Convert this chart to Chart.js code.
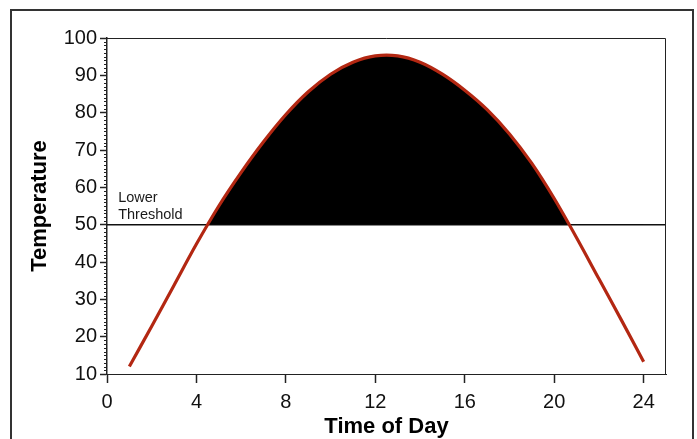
<!DOCTYPE html>
<html>
<head>
<meta charset="utf-8">
<script src="https://cdn.jsdelivr.net/npm/chart.js@4/dist/chart.umd.min.js"></script>
<style>
  html, body { margin: 0; padding: 0; background: #ffffff; }
  #wrap { position: relative; width: 697px; height: 439px; overflow: hidden; }
  #frame { position: absolute; left: 10px; top: 9px; width: 680px; height: 460px;
           border: 2.5px solid #333333; pointer-events: none; }
  canvas { position: absolute; left: 0; top: 0; }
</style>
</head>
<body>
<div id="wrap">
  <canvas id="c" width="697" height="439"></canvas>
  <div id="frame"></div>
</div>
<script>
// ---- data ----
const hours = [1, 2, 3, 4, 5, 6, 7, 8, 9, 10, 11, 12, 13, 14, 15, 16, 17, 18, 19, 20, 21, 22, 23, 24];
const temperature = [12, 22.8, 33.8, 44.8, 55, 64, 72.2, 79.5, 85.6, 90.3, 93.5, 95.2, 95.2, 93.5, 90.3, 86, 80.8, 74.3, 66.4, 57, 46.5, 35.5, 24.5, 13.3];
const thresholdValue = 50;
const thresholdLabel = ["Lower", "Threshold"];
const xRange = [0, 25];
const xTicks = [0, 4, 8, 12, 16, 20, 24];
const yRange = [10, 100];
const yTicks = [10, 20, 30, 40, 50, 60, 70, 80, 90, 100];
const xTitle = "Time of Day";
const yTitle = "Temperature";

const FONT = '"Liberation Sans", Arial, Helvetica, sans-serif';

const curvePoints = hours.map((h, i) => ({ x: h, y: temperature[i] }));
const thresholdPoints = xRange.map(x => ({ x: x, y: thresholdValue }));

const decorPlugin = {
  id: 'decor',
  afterDraw(chart) {
    const { ctx, chartArea, scales } = chart;
    const y = scales.y;
    ctx.save();
    // top & right frame of plot
    ctx.strokeStyle = '#222222';
    ctx.lineWidth = 1;
    ctx.beginPath();
    ctx.moveTo(chartArea.left, chartArea.top + 0.5);
    ctx.lineTo(chartArea.right - 0.5, chartArea.top + 0.5);
    ctx.lineTo(chartArea.right - 0.5, chartArea.bottom);
    ctx.stroke();
    // minor ticks on y axis every 1 unit
    ctx.beginPath();
    for (let v = yRange[0]; v <= yRange[1]; v += 1) {
      if (yTicks.includes(v)) continue;
      const py = Math.round(y.getPixelForValue(v)) + 0.5;
      ctx.moveTo(chartArea.left - 3, py);
      ctx.lineTo(chartArea.left, py);
    }
    ctx.stroke();
    // threshold label
    ctx.fillStyle = '#1a1a1a';
    ctx.font = '14.5px ' + FONT;
    ctx.textAlign = 'left';
    ctx.textBaseline = 'alphabetic';
    const lx = scales.x.getPixelForValue(0.5);
    const ly = y.getPixelForValue(thresholdValue) - 6;
    ctx.fillText(thresholdLabel[1], lx, ly);
    ctx.fillText(thresholdLabel[0], lx, ly - 17);
    ctx.restore();
  }
};

new Chart(document.getElementById('c'), {
  type: 'line',
  data: {
    datasets: [
      {
        label: 'Temperature',
        data: curvePoints,
        borderColor: '#b32712',
        borderWidth: 3.2,
        pointRadius: 0,
        tension: 0.3,
        fill: { target: { value: thresholdValue }, above: '#000000', below: 'rgba(0,0,0,0)' },
        order: 1
      },
      {
        label: 'Lower Threshold',
        data: thresholdPoints,
        borderColor: '#111111',
        borderWidth: 1.5,
        pointRadius: 0,
        fill: false,
        order: 2
      }
    ]
  },
  options: {
    responsive: false,
    devicePixelRatio: 1,
    animation: false,
    layout: { padding: { left: 0, top: 38, right: 31, bottom: 0 } },
    plugins: { legend: { display: false }, tooltip: { enabled: false } },
    scales: {
      x: {
        type: 'linear',
        min: xRange[0],
        max: xRange[1],
        afterFit(scale) { scale.height = 65; },
        afterBuildTicks(scale) { scale.ticks = xTicks.map(v => ({ value: v })); },
        ticks: { color: '#111111', font: { family: FONT, size: 20 }, padding: 7, maxRotation: 0, includeBounds: false },
        grid: { drawOnChartArea: false, drawTicks: true, tickLength: 9, color: '#222222', tickWidth: 1.5 },
        border: { display: true, color: '#222222', width: 1 },
        title: { display: true, text: xTitle, color: '#000000', font: { family: FONT, size: 22, weight: 'bold', lineHeight: 1 }, padding: { top: 0, bottom: 1 } }
      },
      y: {
        type: 'linear',
        min: yRange[0],
        max: yRange[1],
        afterFit(scale) { scale.width = 107; },
        afterBuildTicks(scale) { scale.ticks = yTicks.map(v => ({ value: v })); },
        ticks: { color: '#111111', font: { family: FONT, size: 20 }, padding: 3 },
        grid: { drawOnChartArea: false, drawTicks: true, tickLength: 7, color: '#222222', tickWidth: 1.5 },
        border: { display: true, color: '#222222', width: 1.5 },
        title: { display: true, text: yTitle, color: '#000000', font: { family: FONT, size: 22, weight: 'bold', lineHeight: 1 }, padding: { top: 29, bottom: 0 } }
      }
    }
  },
  plugins: [decorPlugin]
});
</script>
</body>
</html>
